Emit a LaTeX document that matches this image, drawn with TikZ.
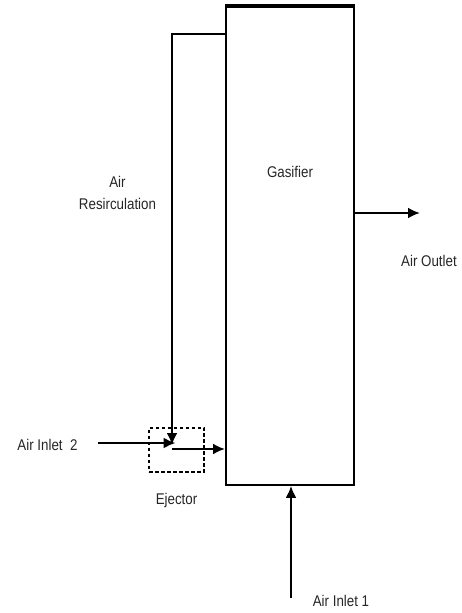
\documentclass[tikz,border=0pt]{standalone}
\usepackage{fontspec}
\setmainfont{Liberation Sans}[FakeStretch=0.86]
\usetikzlibrary{arrows.meta, positioning, calc}

\begin{document}
\begin{tikzpicture}[x=1pt, y=-1pt,
  font=\fontsize{15.5}{18}\selectfont, >={Latex[length=12pt,width=11pt]},
  unit/.style={rectangle, draw, line width=1.9pt, inner sep=0pt},
  ejbox/.style={rectangle, draw, line width=2pt, dash pattern=on 3.5pt off 2.5pt, inner sep=0pt},
  flow/.style={->, line width=1.9pt},
  recirc/.style={->, line width=2.8pt},
  lbl/.style={align=center, inner sep=0pt, text=black!85}]
  \useasboundingbox (0,0) rectangle (461,613);
  \node[unit, minimum width=128pt, minimum height=478pt] (gasifier) at (290,246) {};
  \node[lbl] (gastext) at (290,172) {Gasifier};
  \draw[line width=3.4pt] (gasifier.north west) -- (gasifier.north east);
  \node[ejbox, minimum width=55pt, minimum height=44pt] (ejector) at (176.5,449.5) {};
  \node[lbl, below=21pt of ejector] (ejtext) {Ejector};
  \node[lbl] (recirctext) at (117.5,193) {Air\\[4pt]Resirculation};
  \node[lbl] (in2text) at (47.5,445) {Air Inlet\ \ 2};
  \node[lbl] (in1text) at (341,601) {Air Inlet 1};
  \node[lbl] (outtext) at (429,261) {Air Outlet};
  \coordinate (in2start) at (98,443);
  \coordinate (in1start) at (291,598);
  \coordinate (outend) at (420,213);
  % recirculation loop
  \draw[recirc] ([yshift=-28pt]gasifier.north west) -| ([xshift=-4.5pt,yshift=4.5pt]ejector.center);
  \draw[recirc] ([xshift=-4.5pt,yshift=0.5pt]ejector.center) -- ([yshift=0.5pt]ejector.center -| gasifier.west);
  \draw[flow] (in2start) -- ([xshift=-1pt]in2start -| ejector.center);
  \draw[flow] (in1start) -- (in1start |- gasifier.south);
  \draw[recirc] (outend -| gasifier.east) -- (outend);
\end{tikzpicture}
\end{document}
